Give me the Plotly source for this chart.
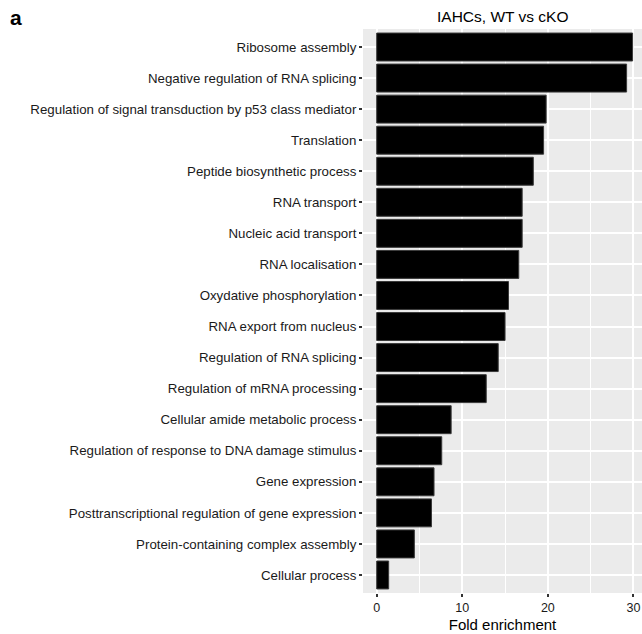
import plotly.graph_objects as go

categories = [
    "Ribosome assembly",
    "Negative regulation of RNA splicing",
    "Regulation of signal transduction by p53 class mediator",
    "Translation",
    "Peptide biosynthetic process",
    "RNA transport",
    "Nucleic acid transport",
    "RNA localisation",
    "Oxydative phosphorylation",
    "RNA export from nucleus",
    "Regulation of RNA splicing",
    "Regulation of mRNA processing",
    "Cellular amide metabolic process",
    "Regulation of response to DNA damage stimulus",
    "Gene expression",
    "Posttranscriptional regulation of gene expression",
    "Protein-containing complex assembly",
    "Cellular process",
]
fold_enrichment = [29.9, 29.2, 19.8, 19.5, 18.3, 17.0, 17.0, 16.6, 15.4, 15.0,
                   14.2, 12.8, 8.7, 7.6, 6.7, 6.4, 4.4, 1.4]
x_ticks = [0, 10, 20, 30]

W, H = 642, 634
ml, mr, mt, mb = 363, 0, 29, 41
pw = W - ml - mr
ph = H - mt - mb

fig = go.Figure()
fig.add_trace(go.Bar(
    x=fold_enrichment, y=categories, orientation="h",
    width=0.9,
    marker=dict(color="black", line=dict(color="#3a3a3a", width=1)),
    hoverinfo="x+y",
))

fig.update_layout(
    width=W, height=H,
    margin=dict(l=ml, r=mr, t=mt, b=mb, pad=0),
    paper_bgcolor="white",
    plot_bgcolor="#EBEBEB",
    showlegend=False,
    font=dict(family="Liberation Sans, Arial, sans-serif", color="#1a1a1a"),
    bargap=0.1,
)
fig.update_xaxes(
    range=[-1.6, 31.0],
    tickvals=x_ticks,
    ticktext=[str(v) for v in x_ticks],
    showgrid=True, gridcolor="white", gridwidth=1.6,
    minor=dict(dtick=5, tick0=0, showgrid=True, gridcolor="white", gridwidth=0.8, ticks=""),
    zeroline=False,
    ticks="outside", ticklen=3, tickwidth=1.5, tickcolor="#333333",
    tickfont=dict(size=12.5, color="#1a1a1a"),
    title=dict(text="Fold enrichment", font=dict(size=15, color="black"), standoff=5),
    showline=False,
    automargin=False,
)
fig.update_yaxes(
    type="category",
    categoryorder="array", categoryarray=categories,
    range=[len(categories) - 1 + 0.58, -0.58],
    showgrid=True, gridcolor="white", gridwidth=1.6,
    zeroline=False,
    ticks="outside", ticklen=3, tickwidth=1.5, tickcolor="#333333",
    tickfont=dict(size=13.3, color="#1a1a1a"),
    showline=False,
    automargin=False,
)

fig.add_annotation(
    text="IAHCs, WT vs cKO", xref="paper", yref="paper",
    x=0.5, y=1, xanchor="center", yanchor="bottom", yshift=2,
    showarrow=False, font=dict(size=15.5, color="black"),
)
fig.add_annotation(
    text="<b>a</b>", xref="paper", yref="paper",
    x=(8 - ml) / pw, y=1 + (mt - 4) / ph, xanchor="left", yanchor="top",
    showarrow=False, font=dict(size=21, color="black"),
)

fig.write_html(
    "out.html",
    config={"displayModeBar": False},
    post_script="document.body.style.margin='0';document.body.style.overflow='hidden';",
)
